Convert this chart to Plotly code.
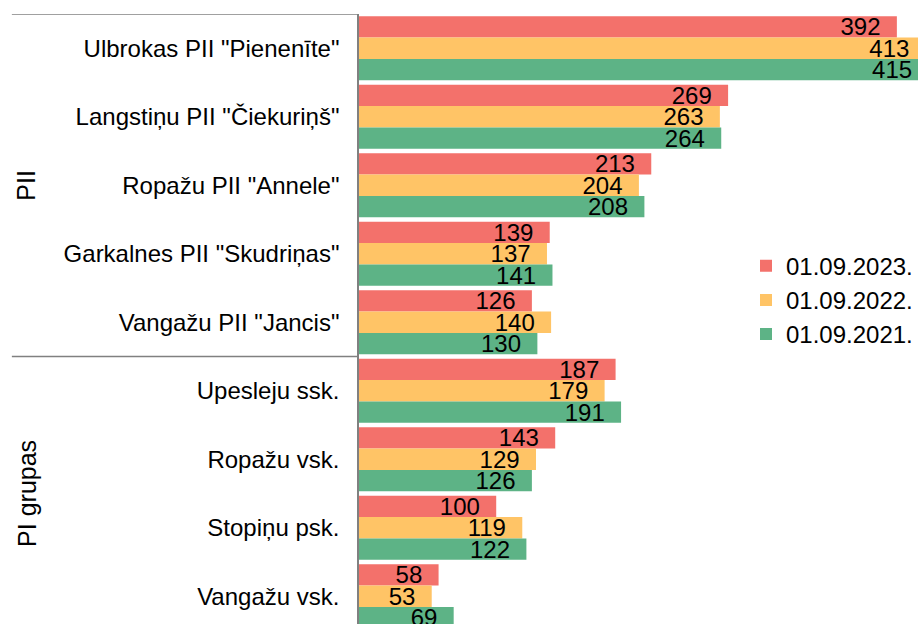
import plotly.graph_objects as go

# iestādes (kategorijas) no augšas uz leju
categories = [
    'Ulbrokas PII "Pienenīte"',
    'Langstiņu PII "Čiekuriņš"',
    'Ropažu PII "Annele"',
    'Garkalnes PII "Skudriņas"',
    'Vangažu PII "Jancis"',
    'Upesleju ssk.',
    'Ropažu vsk.',
    'Stopiņu psk.',
    'Vangažu vsk.',
]
groups = ['PII', 'PI grupas']
group_sizes = [5, 4]

series_names = ['01.09.2023.', '01.09.2022.', '01.09.2021.']
values_2023 = [392, 269, 213, 139, 126, 187, 143, 100, 58]
values_2022 = [413, 263, 204, 137, 140, 179, 129, 119, 53]
values_2021 = [415, 264, 208, 141, 130, 191, 126, 122, 69]

colors = ['#F3716B', '#FFC466', '#5DB386']
font = 'Liberation Sans, Arial, sans-serif'

pos = list(range(len(categories)))

fig = go.Figure()
for name, vals, col in zip(series_names, [values_2023, values_2022, values_2021], colors):
    fig.add_trace(go.Bar(
        y=pos, x=vals, name=name, orientation='h',
        marker=dict(color=col, line=dict(width=0)),
        text=[str(v) for v in vals],
        texttemplate='%{text}\u2007',
        textposition='inside', insidetextanchor='end',
        constraintext='none',
        textfont=dict(size=24, color='black', family=font),
        legendgroup=name,
    ))

# grupu nosaukumi un atdalītājlīnijas
start = -0.5
for g, n in zip(groups, group_sizes):
    fig.add_shape(type='line', xref='paper', yref='y', x0=-0.621, x1=0,
                  y0=start, y1=start, line=dict(color='#808080', width=1.5))
    fig.add_annotation(text=g, textangle=-90, xref='paper', yref='y',
                       x=-0.595, y=start + n / 2, xanchor='center', yanchor='middle',
                       showarrow=False, font=dict(size=25, color='black', family=font))
    start += n

fig.update_layout(
    width=918, height=624,
    margin=dict(l=359, r=0, t=14, b=0),
    barmode='group', bargap=0.066, bargroupgap=0,
    plot_bgcolor='white', paper_bgcolor='white',
    font=dict(family=font, size=24, color='black'),
    legend=dict(x=1.0, y=0.531, xanchor='right', yanchor='middle',
                font=dict(size=24, color='black'), tracegroupgap=0,
                borderwidth=0, bgcolor='rgba(0,0,0,0)'),
    showlegend=True,
)
fig.update_xaxes(range=[0, 407.4], visible=False)
fig.update_yaxes(range=[8.405, -0.5], tickvals=pos, ticktext=categories,
                 showline=True, linecolor='#808080', linewidth=1.5,
                 showgrid=False, zeroline=False, ticks='',
                 ticklabelstandoff=13, tickfont=dict(size=24, color='black'))

# bez lapas atkāpēm, ritjoslām un rīkjoslas
fig.write_html("out.html", config={'displayModeBar': False},
               post_script="document.body.style.margin='0';document.body.style.overflow='hidden';")
